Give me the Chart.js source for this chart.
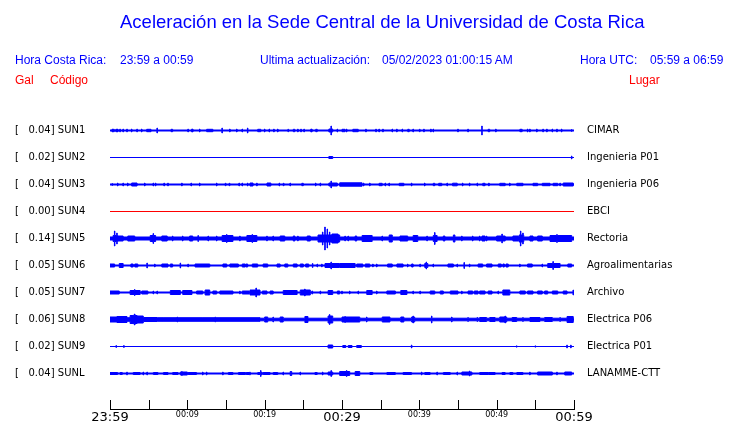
<!DOCTYPE html>
<html>
<head>
<meta charset="utf-8">
<script src="https://cdn.jsdelivr.net/npm/chart.js@4.4.1/dist/chart.umd.min.js"></script>
<style>
  body { margin: 0; background: #fff; }
  #wrap { position: relative; width: 740px; height: 423px; overflow: hidden; }
  #c { position: absolute; left: 0; top: 0; }
  .t { position: absolute; white-space: pre; font-family: "Liberation Sans", Arial, sans-serif; font-size: 12px; line-height: 14px; color: #0000ff; }
  .red { color: #ff0000; }
  #title { font-size: 18.5px; line-height: 20px; }
</style>
</head>
<body>
<div id="wrap">
  <canvas id="c" width="740" height="423"></canvas>
  <div class="t" id="title" style="left:120px; top:12px;">Aceleración en la Sede Central de la Universidad de Costa Rica</div>
  <div class="t" style="left:15px; top:53px;">Hora Costa Rica:</div>
  <div class="t" style="left:120px; top:53px;">23:59 a 00:59</div>
  <div class="t" style="left:260px; top:53px;">Ultima actualización:</div>
  <div class="t" style="left:382px; top:53px;">05/02/2023 01:00:15 AM</div>
  <div class="t" style="left:580px; top:53px;">Hora UTC:</div>
  <div class="t" style="left:650px; top:53px;">05:59 a 06:59</div>
  <div class="t red" style="left:15px; top:73px;">Gal</div>
  <div class="t red" style="left:50px; top:73px;">Código</div>
  <div class="t red" style="left:629px; top:73px;">Lugar</div>
</div>
<script>
// stations, top to bottom
const codes = ['SUN1', 'SUN2', 'SUN3', 'SUN4', 'SUN5', 'SUN6', 'SUN7', 'SUN8', 'SUN9', 'SUNL'];
const galMax = [0.04, 0.02, 0.04, 0.00, 0.14, 0.05, 0.05, 0.06, 0.02, 0.04];
const places = ['CIMAR', 'Ingenieria P01', 'Ingenieria P06', 'EBCI', 'Rectoria',
                'Agroalimentarias', 'Archivo', 'Electrica P06', 'Electrica P01', 'LANAMME-CTT'];

// minutes after 23:59
const tickMinutes = [0, 5, 10, 15, 20, 25, 30, 35, 40, 45, 50, 55, 60];
const tickLabels = ['23:59', '', '00:09', '', '00:19', '', '00:29', '', '00:39', '', '00:49', '', '00:59'];

// half thickness of the quiet trace
const noiseFloor = [1, 0.5, 1, 0.5, 2, 1, 1, 1.8, 0.5, 1];

// bursts: [minute, halfAmp] = single spike, [fromMin, toMin, halfAmp] = packet
const sun1Events = [
  [0.3, 2], [0.5, 2], [0.8, 2], [1.0, 2], [1.3, 2], [1.7, 2], [2.2, 2], [2.8, 2], [3.5, 2], [4.1, 2], [4.8, 2],
  [4.9, 5.3, 1.7], [6.1, 3], [7.9, 8.1, 1.7], [10.1, 2], [10.6, 2], [10.7, 2], [11.6, 2], [12.5, 13.3, 1.7],
  [14.5, 3], [15.5, 2], [16.4, 2], [17.1, 2], [17.8, 3], [19.1, 19.5, 1.7], [20.0, 2], [20.6, 2], [21.2, 2],
  [21.7, 2], [23.0, 23.1, 1.7], [23.7, 23.9, 1.7], [24.3, 2], [24.7, 2], [25.1, 2], [26.0, 2], [26.1, 2],
  [26.6, 26.8, 1.7], [28.3, 28.8, 2], [28.6, 5], [29.4, 2], [30.0, 30.4, 1.7], [30.6, 2], [31.4, 32.1, 1.7],
  [33.1, 2], [34.4, 2], [34.8, 2], [35.3, 2], [36.5, 2], [37.1, 2], [37.8, 2], [38.5, 38.7, 1.7], [39.2, 2],
  [40.0, 40.1, 1.7], [40.6, 2], [41.5, 2], [41.8, 2], [45.0, 2], [46.3, 2], [48.1, 5], [48.9, 49.1, 1.7],
  [49.9, 2], [53.0, 53.3, 1.7], [54.0, 2], [54.3, 2], [55.2, 2], [56.0, 2], [56.5, 2], [57.2, 2], [57.8, 2],
  [58.4, 2], [59.7, 1.5]
];
const sun2Events = [[28.3, 28.8, 1.5], [59.7, 2]];
const sun3Events = [
  [0.3, 1.5], [1.0, 2], [1.7, 2], [2.3, 2], [2.8, 3.5, 2], [4.5, 2], [5.6, 2], [5.9, 2], [7.0, 2], [7.5, 2],
  [9.3, 2], [10.5, 2], [11.6, 2], [13.8, 2], [14.9, 15.0, 1.7], [15.4, 15.5, 1.7], [16.7, 2], [17.1, 2],
  [17.8, 2], [18.1, 18.5, 2], [19.0, 2], [20.3, 20.8, 2], [21.9, 2], [22.4, 22.5, 1.7], [23.3, 2],
  [24.8, 25.0, 1.7], [26.6, 2], [27.2, 2], [28.3, 29.4, 2], [28.6, 4], [29.7, 32.6, 2.2], [32.8, 2], [33.6, 2],
  [34.8, 35.2, 1.7], [35.6, 2], [36.1, 2], [37.4, 38.0, 1.7], [39.0, 2], [40.7, 2], [41.8, 42.0, 1.7],
  [42.5, 42.9, 1.7], [43.6, 2], [44.3, 44.9, 1.8], [45.6, 2], [46.5, 2], [47.5, 2], [48.2, 48.5, 1.7],
  [49.0, 2], [50.4, 51.1, 1.7], [51.7, 2], [52.6, 53.4, 1.7], [54.7, 55.3, 1.7], [55.9, 56.9, 1.7],
  [57.3, 57.9, 1.7], [58.2, 2], [58.6, 59.9, 2]
];
const sun4Events = [];
const sun5Events = [
  [0.4, 1.0, 3.5], [0.6, 8], [0.9, 6], [1.0, 1.7, 3], [2.3, 3.2, 3], [5.2, 5.9, 3.5], [5.6, 5.5],
  [6.7, 7.4, 3], [8.1, 3], [9.4, 3], [10.3, 10.7, 3], [11.4, 3.5], [12.7, 3], [13.8, 3], [14.5, 15.9, 3.5],
  [15.1, 4.5], [16.8, 3], [17.7, 19.0, 3.5], [18.4, 4.5], [20.3, 3], [21.1, 3], [22.0, 22.6, 3],
  [23.7, 23.9, 3], [24.3, 3], [25.5, 25.9, 3], [26.9, 29.7, 4], [27.5, 7], [27.8, 12], [28.1, 10], [28.4, 7],
  [28.7, 29.5, 5], [30.4, 3], [30.8, 3], [31.7, 31.9, 3], [32.6, 33.9, 3.5], [35.2, 3], [36.1, 36.5, 4],
  [37.5, 38.5, 3], [39.2, 39.8, 3.5], [41.0, 3], [41.8, 42.3, 3.5], [42.0, 6.5], [43.1, 43.3, 3],
  [44.4, 44.6, 4], [45.5, 3], [46.9, 3], [47.8, 3], [48.1, 48.5, 3], [48.7, 3], [50.0, 51.1, 3], [50.7, 5],
  [52.1, 52.8, 3], [52.9, 53.5, 4], [53.1, 8], [53.4, 6], [54.3, 54.7, 3], [55.3, 55.9, 3],
  [56.9, 59.7, 3.5], [57.8, 4.5]
];
const sun6Events = [
  [0.0, 0.6, 2], [1.2, 1.7, 2.5], [2.7, 3.0, 2], [3.2, 3.6, 2], [4.8, 3], [5.8, 2], [6.7, 7.5, 2],
  [7.8, 8.1, 2], [9.1, 3], [10.1, 2], [11.0, 12.9, 2], [14.6, 15.1, 2], [15.5, 16.6, 2], [17.1, 17.5, 2],
  [17.6, 17.8, 2], [18.4, 19.1, 2], [19.8, 20.4, 2], [21.6, 22.0, 2], [22.6, 23.0, 2], [23.7, 24.2, 2],
  [24.6, 25.0, 2], [25.3, 25.7, 2], [26.2, 2.5], [26.8, 2], [27.4, 2], [27.8, 29.7, 2.5], [28.6, 4],
  [29.7, 31.7, 2.5], [31.9, 32.7, 2], [33.0, 33.6, 2], [34.0, 2], [34.5, 2], [35.9, 36.5, 2], [37.1, 37.9, 2],
  [38.5, 2], [39.0, 39.2, 2], [40.1, 2], [40.7, 41.1, 2.5], [40.9, 4], [41.8, 2], [43.7, 44.4, 2], [44.9, 2],
  [45.8, 3.5], [46.5, 2], [47.6, 48.2, 2], [48.7, 49.4, 2], [50.2, 50.6, 2], [50.8, 51.0, 2], [51.2, 51.5, 2],
  [53.0, 2], [54.0, 54.6, 2], [55.9, 2], [56.6, 58.2, 2.5], [57.3, 4.5], [59.2, 59.7, 2]
];
const sun7Events = [
  [0.0, 1.2, 2], [2.6, 3.9, 2.5], [3.2, 3.5], [4.1, 4.9, 2], [5.6, 2], [6.1, 2], [7.8, 9.1, 2.5],
  [9.4, 10.6, 2.5], [11.2, 12.0, 2], [12.3, 12.9, 3], [13.3, 13.8, 2], [14.2, 15.9, 2], [16.8, 2],
  [17.1, 18.0, 2], [18.1, 19.4, 3], [18.9, 5], [19.7, 20.3, 2], [20.7, 21.1, 2], [22.4, 24.2, 2.5],
  [24.6, 25.9, 3], [25.2, 4], [26.1, 26.2, 2], [27.2, 2], [28.2, 28.8, 2.5], [29.4, 29.7, 2], [30.0, 2],
  [31.0, 2], [32.1, 2], [33.2, 33.9, 2.5], [34.5, 2], [35.8, 36.9, 2], [37.6, 38.4, 2.5], [39.2, 2],
  [40.1, 2], [41.4, 42.0, 2], [42.7, 43.1, 2], [44.0, 45.0, 2], [45.5, 2], [46.3, 46.9, 2], [47.1, 47.6, 2],
  [47.8, 48.5, 2], [48.9, 49.4, 2], [50.2, 2], [50.8, 51.7, 3], [53.0, 53.7, 2], [54.0, 54.7, 2],
  [55.3, 55.9, 2], [56.2, 56.6, 2], [57.2, 57.9, 2], [58.6, 59.1, 2], [59.9, 3]
];
const sun8Events = [
  [0.0, 19.4, 2.3], [0.0, 0.9, 3], [0.9, 2.2, 3.5], [2.6, 3.5, 4.5], [3.0, 5], [3.2, 6], [3.5, 4.3, 4],
  [4.3, 6.1, 2.5], [6.9, 2.5], [8.7, 3], [12.0, 2.5], [13.6, 3], [20.0, 20.4, 3], [21.1, 3], [22.0, 22.4, 3],
  [25.2, 25.6, 3.5], [28.2, 28.8, 4], [28.4, 5.5], [30.0, 32.3, 3], [30.4, 3.5], [33.2, 3], [35.2, 36.2, 3],
  [37.6, 38.0, 3], [39.0, 39.4, 3], [39.2, 4], [41.6, 4], [44.2, 3], [46.3, 2.5], [47.5, 2.5],
  [47.8, 48.7, 2.5], [49.1, 49.8, 2.5], [50.4, 51.3, 3], [51.1, 4], [52.0, 52.6, 2.5], [53.4, 2.5],
  [54.3, 55.6, 2.5], [56.2, 57.2, 2.5], [58.2, 2.5], [59.1, 59.9, 3.5]
];
const sun9Events = [
  [0.8, 1.5], [1.8, 1.5], [28.2, 28.8, 2], [30.1, 30.5, 1.5], [30.8, 31.3, 1.5], [31.9, 32.5, 1.5],
  [39.0, 2], [52.6, 1.2], [55.0, 1.2], [59.1, 2], [59.6, 2]
];
const sunlEvents = [
  [0.0, 1.0, 1.5], [1.3, 1.6, 1.5], [2.2, 2], [3.0, 3.9, 1.5], [4.3, 2], [4.8, 2], [5.6, 6.2, 1.5],
  [6.9, 7.5, 1.5], [8.1, 8.8, 1.5], [9.1, 10.0, 2], [9.3, 2.5], [10.1, 11.2, 1.5], [12.0, 2], [12.5, 2],
  [14.6, 2], [15.3, 15.9, 1.5], [16.6, 17.7, 1.5], [17.5, 18.1, 1.5], [18.1, 2], [19.1, 19.7, 1.5],
  [19.5, 3.5], [19.8, 20.7, 1.5], [21.1, 21.7, 1.5], [22.4, 2], [23.3, 23.5, 2.5], [24.6, 2],
  [26.5, 26.8, 1.5], [27.5, 2], [28.2, 28.8, 2], [28.6, 3.5], [29.7, 31.0, 2.5], [30.6, 3.5],
  [31.7, 32.3, 2.5], [33.6, 34.0, 1.5], [35.8, 36.9, 1.5], [37.9, 39.0, 1.5], [40.3, 2], [40.7, 41.4, 1.5],
  [42.3, 2], [43.1, 44.0, 1.5], [44.9, 2], [45.5, 46.8, 2], [46.5, 3], [47.8, 48.9, 1.5], [48.9, 49.8, 1.5],
  [50.7, 51.1, 1.5], [51.7, 52.1, 1.5], [52.6, 53.4, 1.5], [54.3, 2], [55.3, 57.2, 2], [57.8, 2],
  [58.8, 59.7, 2]
];
const allEvents = [sun1Events, sun2Events, sun3Events, sun4Events, sun5Events,
                   sun6Events, sun7Events, sun8Events, sun9Events, sunlEvents];

const ROW_TOP = 278.5;   // y value of the first trace
const ROW_STEP = 27;
const SPIKE = 0.06;      // width of a single spike, minutes
const STROKE = 0.5;      // half of the outline width

// union of the bursts as a stepped outline: [minute, halfAmp]
function envelope(events, floor) {
  const spans = events.map(e => e.length === 2 ? [e[0] - SPIKE / 2, e[0] + SPIKE / 2, e[1]] : e);
  const cuts = [0, 60];
  spans.forEach(s => cuts.push(Math.max(0, s[0]), Math.min(60, s[1])));
  const xs = [...new Set(cuts)].sort((a, b) => a - b);
  const out = [];
  for (let i = 0; i < xs.length; i++) {
    const mid = i < xs.length - 1 ? (xs[i] + xs[i + 1]) / 2 : xs[i];
    let a = floor;
    spans.forEach(s => { if (s[0] <= mid && mid <= s[1]) a = Math.max(a, s[2]); });
    out.push([xs[i], Math.max(0, a - STROKE)]);
  }
  return out;
}

const datasets = [];
codes.forEach((code, i) => {
  const c = ROW_TOP - ROW_STEP * i;
  const env = envelope(allEvents[i], noiseFloor[i]);
  const color = galMax[i] === 0 ? '#ff0000' : '#0000ff';
  const common = { borderColor: color, backgroundColor: color, borderWidth: 1, pointRadius: 0, stepped: true };
  datasets.push({ ...common, label: code + ' +', data: env.map(p => ({ x: p[0], y: c + p[1] })), fill: false });
  datasets.push({ ...common, label: code + ' -', data: env.map(p => ({ x: p[0], y: c - p[1] })), fill: '-1' });
});

const rowValues = codes.map((_, i) => ROW_TOP - ROW_STEP * i);

const innerTicks = {
  id: 'innerTicks',
  afterDraw(chart) {
    const x = chart.scales.x, ctx = chart.ctx, bottom = chart.chartArea.bottom;
    ctx.save();
    ctx.strokeStyle = '#000';
    ctx.lineWidth = 1;
    x.ticks.forEach(t => {
      const px = Math.round(x.getPixelForValue(t.value)) + 0.5;
      ctx.beginPath();
      ctx.moveTo(px, bottom);
      ctx.lineTo(px, bottom - 9);
      ctx.stroke();
    });
    ctx.restore();
  }
};

// row labels sit far from the plot edges: drop the label overflow padding
const noPad = s => { s.paddingTop = 0; s.paddingBottom = 0; };

new Chart(document.getElementById('c'), {
  type: 'line',
  data: { datasets },
  options: {
    responsive: false,
    animation: false,
    devicePixelRatio: 1,
    layout: { padding: { left: 15, top: 103, right: 0, bottom: 0 } },
    plugins: { legend: { display: false }, tooltip: { enabled: false } },
    scales: {
      x: {
        type: 'linear', min: 0, max: 60,
        afterBuildTicks: s => { s.ticks = tickMinutes.map(v => ({ value: v })); },
        afterFit: s => { s.height = 14; },
        grid: { display: true, drawOnChartArea: false, drawTicks: false },
        border: { display: true, color: '#000', width: 1 },
        ticks: {
          autoSkip: false, maxRotation: 0, padding: 1, color: '#000',
          callback: (v, i) => tickLabels[i],
          font: ctx => (ctx.index % 6 === 0 ? { family: 'DejaVu Sans', size: 13 } : { family: 'DejaVu Sans', size: 8 })
        }
      },
      y: {
        type: 'linear', min: 0, max: 306, position: 'left',
        afterBuildTicks: s => { s.ticks = rowValues.map(v => ({ value: v })); },
        afterFit: s => { s.width = 95; noPad(s); },
        grid: { display: false, drawTicks: false },
        border: { display: false },
        ticks: {
          autoSkip: false, crossAlign: 'far', padding: 0, color: '#000',
          font: { family: 'DejaVu Sans', size: 10 },
          callback: (v, i) => '[   ' + galMax[i].toFixed(2) + '] ' + codes[i]
        }
      },
      y2: {
        type: 'linear', min: 0, max: 306, position: 'right',
        afterBuildTicks: s => { s.ticks = rowValues.map(v => ({ value: v })); },
        afterFit: s => { s.width = 166; noPad(s); },
        grid: { display: false, drawTicks: false },
        border: { display: false },
        ticks: {
          autoSkip: false, padding: 13, color: '#000',
          font: { family: 'DejaVu Sans', size: 10 },
          callback: (v, i) => places[i]
        }
      }
    }
  },
  plugins: [innerTicks]
});
</script>
</body>
</html>
